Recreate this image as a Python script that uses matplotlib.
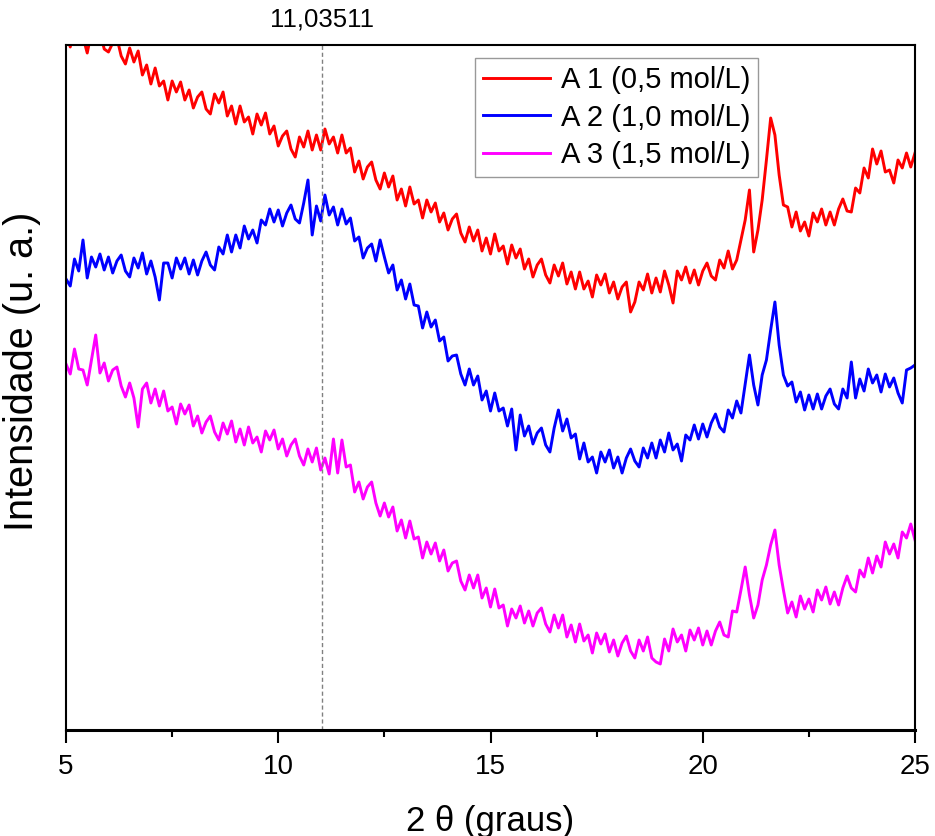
import numpy as np
import matplotlib
matplotlib.use("Agg")
import matplotlib.pyplot as plt
from matplotlib.ticker import MultipleLocator

plt.rcParams['font.family'] = ['Liberation Sans', 'DejaVu Sans']

# 2-theta grid (degrees), 0.1 step
two_theta = np.round(np.arange(5.0, 25.0001, 0.1), 1)

# Intensities (arbitrary units)
a1 = [698, 683, 702, 687, 693, 677, 698, 687, 699, 681,
      678, 687, 692, 674, 666, 682, 668, 679, 655, 665,
      646, 662, 644, 649, 630, 649, 638, 648, 630, 640,
      622, 633, 638, 621, 616, 636, 627, 638, 614, 624,
      606, 624, 608, 613, 596, 616, 605, 617, 596, 604,
      584, 594, 599, 581, 573, 593, 583, 599, 580, 595,
      580, 601, 586, 593, 577, 595, 577, 582, 558, 569,
      551, 563, 568, 550, 541, 557, 543, 554, 530, 541,
      524, 543, 526, 530, 512, 530, 518, 527, 508, 517,
      500, 511, 516, 497, 488, 503, 489, 500, 479, 492,
      476, 496, 479, 484, 466, 485, 472, 481, 461, 471,
      453, 465, 471, 455, 447, 465, 454, 467, 446, 458,
      441, 458, 441, 449, 433, 455, 445, 456, 437, 448,
      431, 443, 448, 418, 428, 448, 440, 456, 437, 452,
      438, 459, 445, 427, 459, 450, 463, 447, 460, 445,
      459, 467, 454, 450, 470, 462, 479, 461, 470, 490,
      510, 540, 478, 500, 530, 570, 612, 595, 555, 525,
      523, 503, 518, 499, 508, 494, 517, 508, 521, 505,
      518, 505, 521, 531, 519, 518, 542, 537, 562, 552,
      581, 566, 579, 558, 560, 547, 570, 562, 577, 563,
      577]

a2 = [451, 444, 471, 459, 490, 452, 473, 463, 476, 460,
      473, 457, 469, 475, 459, 453, 472, 462, 477, 456,
      469, 453, 430, 467, 467, 452, 472, 461, 472, 456,
      470, 455, 469, 478, 465, 460, 483, 476, 495, 478,
      495, 482, 504, 491, 500, 487, 510, 505, 521, 508,
      520, 504, 517, 525, 511, 507, 527, 550, 495, 524,
      509, 535, 515, 523, 505, 521, 506, 512, 489, 493,
      472, 482, 486, 469, 490, 473, 457, 465, 440, 450,
      431, 446, 425, 424, 402, 418, 403, 410, 389, 393,
      369, 374, 375, 356, 345, 361, 345, 354, 330, 339,
      319, 337, 319, 322, 304, 321, 280, 315, 294, 304,
      286, 297, 302, 285, 278, 302, 320, 299, 311, 292,
      296, 271, 287, 268, 273, 257, 278, 268, 280, 262,
      273, 257, 272, 281, 269, 263, 282, 272, 287, 272,
      290, 278, 297, 280, 286, 269, 295, 290, 305, 291,
      306, 293, 307, 316, 303, 298, 320, 312, 329, 317,
      346, 375, 345, 325, 355, 370, 400, 428, 385, 355,
      344, 348, 328, 338, 320, 335, 321, 336, 321, 334,
      341, 326, 321, 341, 332, 368, 332, 351, 339, 361,
      347, 355, 338, 356, 343, 352, 337, 327, 360, 362,
      365]

a3 = [366, 356, 381, 361, 360, 345, 370, 395, 357, 367,
      349, 360, 363, 344, 333, 347, 332, 303, 341, 347,
      327, 341, 324, 339, 319, 323, 306, 326, 316, 325,
      304, 314, 297, 308, 314, 298, 290, 307, 296, 309,
      288, 301, 285, 303, 287, 293, 278, 299, 290, 300,
      281, 291, 274, 285, 291, 274, 265, 281, 268, 282,
      260, 272, 256, 291, 257, 290, 263, 265, 238, 248,
      231, 243, 248, 227, 214, 227, 213, 223, 199, 210,
      192, 209, 191, 193, 172, 188, 176, 187, 169, 180,
      159, 167, 169, 149, 140, 155, 142, 155, 132, 142,
      123, 141, 122, 125, 104, 121, 112, 124, 107, 119,
      104, 117, 122, 106, 98, 115, 102, 115, 93, 105,
      88, 106, 89, 95, 77, 97, 86, 96, 78, 90,
      74, 87, 94, 79, 72, 90, 79, 93, 72, 68,
      66, 91, 79, 101, 88, 95, 79, 100, 90, 102,
      85, 99, 85, 99, 108, 95, 93, 119, 118, 140,
      163, 135, 112, 125, 150, 165, 185, 200, 165, 140,
      117, 128, 113, 134, 121, 131, 118, 140, 130, 143,
      126, 138, 125, 142, 154, 142, 138, 160, 153, 172,
      157, 174, 163, 188, 176, 186, 172, 198, 192, 206,
      190]

labels = ["A 1 (0,5 mol/L)", "A 2 (1,0 mol/L)", "A 3 (1,5 mol/L)"]
colors = ["#FF0000", "#0000FF", "#FF00FF"]
ref_line = 11.03511
ref_label = "11,03511"

fig = plt.figure(figsize=(9.35, 8.36), dpi=100)
ax = fig.add_axes([66/935, 1-730/836, (915-66)/935, (730-45)/836])

for y, lab, c in zip([a1, a2, a3], labels, colors):
    ax.plot(two_theta, y, color=c, lw=2.1, label=lab)

ax.axvline(ref_line, color="#808080", lw=1.0, ls=(0, (3, 2)))
ax.text(ref_line, 1.037, ref_label, transform=ax.get_xaxis_transform(),
        ha="center", va="center", fontsize=18.5)

ax.set_xlim(5, 25)
ax.set_ylim(0, 685)
ax.xaxis.set_major_locator(MultipleLocator(5))
ax.xaxis.set_minor_locator(MultipleLocator(2.5))
ax.tick_params(axis="x", which="major", direction="out", length=9, width=1.5,
               labelsize=20, pad=8)
ax.tick_params(axis="x", which="minor", direction="out", length=5, width=1.5)
ax.tick_params(axis="y", left=False, labelleft=False)
for s in ax.spines.values():
    s.set_linewidth(1.5)
ax.spines["bottom"].set_linewidth(2.2)

ax.set_xlabel("2 θ (graus)", fontsize=25, labelpad=18)
ax.set_ylabel("Intensidade (u. a.)", fontsize=28.5)
ax.yaxis.set_label_coords(-0.030, 0.524)

leg = ax.legend(loc="upper left", bbox_to_anchor=(0.482, 0.981), borderaxespad=0,
                fontsize=21, frameon=True, fancybox=False, edgecolor="#808080",
                handlelength=2.3, handletextpad=0.35, labelspacing=0.32,
                borderpad=0.28)
leg.get_frame().set_linewidth(1.0)

fig.savefig("out.png", dpi=100)
